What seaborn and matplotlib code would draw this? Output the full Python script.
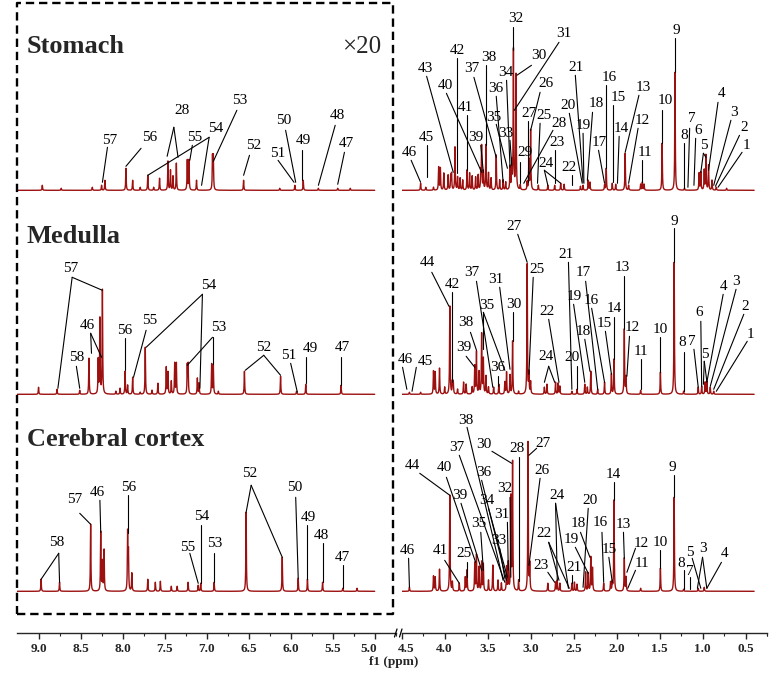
import numpy as np
import matplotlib
matplotlib.use("Agg")
import matplotlib.pyplot as plt
import seaborn as sns
from matplotlib.lines import Line2D
from matplotlib.transforms import ScaledTranslation

# peak tables: chemical shift (ppm) and drawn height above each trace's baseline
# (aromatic region 9.25-5.0 ppm is shown x20, heights below are as drawn)

stomach_arom_ppm = [8.955, 8.73, 8.36, 8.25, 8.21, 7.96, 7.88, 7.79, 7.70, 7.63, 7.56, 7.46, 7.43,
                    7.40, 7.36, 7.23, 7.21, 7.12, 6.93, 6.92, 6.56, 6.13, 5.95, 5.85, 5.67, 5.44, 5.29]
stomach_arom_int = [5, 2, 3, 5, 10, 22, 10, 3, 15, 3, 12, 29, 20,
                    14, 27, 30, 30, 10, 33, 33, 10, 2, 5, 10, 2, 2, 2]

stomach_aliph_ppm = [4.28, 4.22, 4.13, 4.07, 4.05, 4.01, 3.96, 3.93, 3.92, 3.88, 3.85, 3.82, 3.79,
                     3.74, 3.71, 3.68, 3.64, 3.61, 3.58, 3.57, 3.55, 3.52, 3.49, 3.46, 3.40, 3.36,
                     3.32, 3.29, 3.24, 3.22, 3.20, 3.17, 3.12, 3.04, 3.02, 3.00, 2.91, 2.80, 2.72,
                     2.65, 2.61, 2.42, 2.39, 2.33, 2.31, 2.14, 2.12, 2.05, 2.01, 1.90, 1.86, 1.72,
                     1.70, 1.68, 1.47, 1.32, 1.21, 1.04, 1.02, 0.98, 0.96, 0.93, 0.89, 0.84, 0.72]
stomach_aliph_int = [7, 3, 3, 23, 22, 17, 15, 14, 16, 43, 13, 12, 10,
                     20, 17, 14, 13, 15, 17, 43, 18, 45, 17, 12, 35, 10,
                     10, 8, 23, 27, 140, 115, 5, 8, 30, 60, 5, 5, 5,
                     7, 6, 4, 5, 10, 8, 5, 22, 7, 6, 37, 5, 6,
                     8, 6, 47, 118, 2, 17, 18, 20, 35, 25, 10, 3, 2]

medulla_arom_ppm = [9.00, 8.78, 8.51, 8.40, 8.29, 8.27, 8.24, 8.08, 8.03, 7.97, 7.94, 7.88, 7.79,
                    7.73, 7.65, 7.58, 7.48, 7.46, 7.42, 7.38, 7.36, 7.23, 7.22, 7.11, 7.09, 6.94,
                    6.92, 6.86, 6.55, 6.12, 5.93, 5.82, 5.40]
medulla_arom_int = [7, 5, 4, 36, 34, 75, 104, 3, 6, 23, 9, 17, 2,
                    47, 4, 11, 27, 22, 13, 31, 31, 28, 29, 16, 11, 30,
                    29, 3, 23, 18, 3, 10, 9]

medulla_aliph_ppm = [4.41, 4.28, 4.13, 4.11, 4.06, 4.00, 3.94, 3.91, 3.90, 3.85, 3.78, 3.75, 3.68,
                     3.65, 3.63, 3.60, 3.57, 3.55, 3.52, 3.49, 3.43, 3.37, 3.30, 3.28, 3.24, 3.21,
                     3.14, 3.04, 3.02, 3.00, 2.84, 2.81, 2.71, 2.68, 2.66, 2.52, 2.46, 2.37, 2.34,
                     2.30, 2.22, 2.14, 2.06, 2.03, 1.91, 1.89, 1.72, 1.49, 1.33, 1.22, 1.05, 1.01,
                     0.97, 0.95, 0.91, 0.87]
medulla_aliph_int = [2, 2, 23, 22, 26, 7, 88, 12, 12, 5, 12, 10, 7,
                     28, 42, 22, 60, 35, 18, 7, 7, 10, 12, 22, 19, 53,
                     3, 130, 20, 12, 7, 10, 12, 11, 8, 3, 5, 10, 7,
                     23, 5, 12, 20, 35, 65, 17, 4, 22, 132, 3, 7, 8,
                     12, 13, 7, 3]

cortex_arom_ppm = [8.97, 8.75, 8.38, 8.26, 8.24, 8.22, 7.94, 7.93, 7.89, 7.70, 7.61, 7.55, 7.42,
                   7.35, 7.22, 7.10, 7.07, 6.91, 6.53, 6.10, 5.91, 5.80, 5.62, 5.38, 5.21]
cortex_arom_int = [12, 9, 67, 59, 29, 41, 58, 38, 18, 12, 9, 10, 5,
                   5, 9, 6, 8, 9, 79, 34, 13, 12, 9, 3, 3]

cortex_aliph_ppm = [4.41, 4.13, 4.11, 4.06, 3.94, 3.91, 3.83, 3.76, 3.74, 3.65, 3.63, 3.60, 3.57,
                    3.55, 3.49, 3.44, 3.38, 3.34, 3.28, 3.26, 3.23, 3.21, 3.14, 3.03, 3.01, 2.80,
                    2.71, 2.69, 2.66, 2.52, 2.49, 2.46, 2.36, 2.33, 2.30, 2.28, 2.15, 2.07, 2.05,
                    2.03, 1.91, 1.89, 1.72, 1.49, 1.33, 1.22, 1.05, 0.98]
cortex_aliph_int = [4, 15, 14, 22, 96, 9, 8, 14, 21, 28, 36, 24, 29,
                    27, 11, 26, 11, 8, 24, 28, 93, 128, 11, 149, 26, 8,
                    9, 11, 8, 8, 9, 7, 19, 18, 34, 23, 8, 9, 8,
                    91, 33, 14, 3, 23, 94, 2, 3, 4]

tissues = ["Stomach", "Medulla", "Cerebral cortex"]

# peak labels: (text, text ppm, text height, line start ppm, line start height, [line ends])
stomach_arom_labels = [
    ("57", 8.15, 50, 8.18, 43, [(8.24, 8)]),
    ("56", 7.68, 53, 7.78, 42, [(7.96, 24)]),
    ("28", 7.29, 80, 7.39, 63, [(7.47, 34), (7.34, 33)]),
    ("55", 7.14, 53, 7.17, 45, [(7.20, 30)]),
    ("54", 6.89, 62, 6.97, 53, [(7.70, 15), (7.06, 5)]),
    ("53", 6.61, 90, 6.64, 80, [(6.92, 29)]),
    ("52", 6.44, 45, 6.49, 35, [(6.56, 15)]),
    ("51", 6.15, 37, 6.15, 30, [(5.96, 8)]),
    ("50", 6.08, 70, 6.06, 60, [(5.94, 8)]),
    ("49", 5.85, 50, 5.86, 40, [(5.86, 10)]),
    ("48", 5.44, 75, 5.47, 65, [(5.67, 5)]),
    ("47", 5.34, 47, 5.36, 38, [(5.44, 6)]),
]
stomach_aliph_labels = [
    ("46", 4.41, 38, 4.39, 30, [(4.28, 8)]),
    ("45", 4.21, 53, 4.21, 45, [(4.21, 13)]),
    ("43", 4.22, 122, 4.21, 114, [(3.90, 18)]),
    ("42", 3.85, 140, 3.86, 132, [(3.86, 17)]),
    ("40", 3.99, 105, 3.98, 97, [(3.57, 18)]),
    ("41", 3.76, 83, 3.74, 75, [(3.74, 20)]),
    ("37", 3.68, 122, 3.66, 113, [(3.40, 33)]),
    ("38", 3.49, 133, 3.52, 125, [(3.52, 45)]),
    ("39", 3.64, 53, 3.58, 45, [(3.55, 18)]),
    ("36", 3.40, 102, 3.40, 94, [(3.32, 8)]),
    ("35", 3.43, 73, 3.40, 66, [(3.27, 22)]),
    ("34", 3.29, 118, 3.28, 110, [(3.24, 23)]),
    ("33", 3.29, 57, 3.24, 50, [(3.22, 25)]),
    ("32", 3.17, 172, 3.20, 163, [(3.20, 140)]),
    ("30", 2.91, 135, 2.99, 125, [(3.16, 115)]),
    ("31", 2.61, 157, 2.67, 148, [(3.19, 80)]),
    ("29", 3.06, 38, 3.12, 28, [(3.12, 7)]),
    ("27", 3.02, 77, 3.03, 69, [(3.03, 8)]),
    ("26", 2.82, 107, 2.89, 98, [(3.00, 60)]),
    ("25", 2.84, 75, 2.89, 67, [(2.92, 7)]),
    ("28", 2.67, 67, 2.74, 60, [(3.08, 7)]),
    ("23", 2.69, 48, 2.72, 40, [(2.72, 7)]),
    ("24", 2.82, 27, 2.84, 20, [(2.80, 5), (2.65, 7)]),
    ("22", 2.55, 23, 2.52, 15, [(2.52, 5)]),
    ("21", 2.47, 123, 2.48, 115, [(2.39, 8)]),
    ("20", 2.56, 85, 2.55, 77, [(2.40, 7)]),
    ("19", 2.39, 65, 2.39, 57, [(2.38, 7)]),
    ("18", 2.24, 87, 2.28, 78, [(2.34, 10)]),
    ("17", 2.20, 48, 2.21, 40, [(2.14, 7)]),
    ("16", 2.09, 113, 2.12, 105, [(2.12, 22)]),
    ("15", 1.98, 93, 2.04, 85, [(2.04, 8)]),
    ("14", 1.95, 62, 1.97, 54, [(1.99, 7)]),
    ("13", 1.69, 103, 1.74, 95, [(1.90, 38)]),
    ("12", 1.70, 70, 1.75, 62, [(1.86, 7)]),
    ("11", 1.67, 38, 1.70, 30, [(1.70, 8)]),
    ("10", 1.43, 90, 1.47, 80, [(1.47, 47)]),
    ("9", 1.30, 160, 1.32, 152, [(1.32, 118)]),
    ("8", 1.21, 55, 1.21, 47, [(1.21, 2)]),
    ("7", 1.13, 72, 1.15, 62, [(1.17, 3)]),
    ("6", 1.05, 60, 1.08, 52, [(1.10, 5)]),
    ("5", 0.98, 45, 0.99, 37, [(1.02, 18), (0.96, 33)]),
    ("4", 0.78, 97, 0.82, 88, [(0.93, 20)]),
    ("3", 0.63, 78, 0.67, 70, [(0.87, 5)]),
    ("2", 0.52, 63, 0.57, 55, [(0.85, 4)]),
    ("1", 0.49, 45, 0.54, 38, [(0.82, 3)]),
]
medulla_arom_labels = [
    ("57", 8.62, 126, 8.60, 117, [(8.77, 6), (8.24, 104)]),
    ("58", 8.55, 37, 8.55, 28, [(8.51, 6)]),
    ("46", 8.42, 69, 8.38, 61, [(8.37, 41), (8.25, 37)]),
    ("56", 7.97, 64, 7.97, 56, [(7.97, 24)]),
    ("55", 7.68, 74, 7.72, 64, [(7.87, 17)]),
    ("54", 6.98, 109, 7.05, 100, [(7.72, 47), (7.08, 6)]),
    ("53", 6.86, 67, 6.93, 57, [(7.23, 29), (6.93, 30)]),
    ("52", 6.32, 47, 6.32, 39, [(6.54, 24), (6.12, 19)]),
    ("51", 6.02, 39, 6.00, 31, [(5.92, 2)]),
    ("49", 5.77, 46, 5.82, 37, [(5.82, 11)]),
    ("47", 5.38, 47, 5.40, 37, [(5.40, 9)]),
]
medulla_aliph_labels = [
    ("46", 4.46, 35, 4.49, 27, [(4.44, 5)]),
    ("45", 4.22, 33, 4.33, 27, [(4.38, 3)]),
    ("44", 4.20, 132, 4.15, 122, [(3.95, 88)]),
    ("42", 3.91, 110, 3.91, 102, [(3.91, 12)]),
    ("38", 3.75, 72, 3.70, 62, [(3.63, 44)]),
    ("39", 3.78, 47, 3.75, 38, [(3.65, 27)]),
    ("37", 3.68, 122, 3.63, 113, [(3.44, 7)]),
    ("35", 3.51, 89, 3.55, 82, [(3.55, 45), (3.30, 24)]),
    ("36", 3.38, 27, 3.38, 18, [(3.38, 8)]),
    ("31", 3.40, 115, 3.36, 107, [(3.24, 25)]),
    ("30", 3.20, 90, 3.21, 82, [(3.21, 53)]),
    ("27", 3.19, 168, 3.15, 160, [(3.04, 132)]),
    ("25", 2.93, 125, 2.97, 117, [(3.02, 20)]),
    ("24", 2.82, 38, 2.79, 28, [(2.84, 12), (2.72, 12)]),
    ("22", 2.81, 83, 2.79, 75, [(2.67, 12)]),
    ("21", 2.59, 140, 2.56, 132, [(2.52, 5)]),
    ("20", 2.52, 37, 2.46, 28, [(2.46, 5)]),
    ("19", 2.49, 98, 2.50, 90, [(2.37, 12)]),
    ("18", 2.39, 63, 2.37, 55, [(2.31, 23)]),
    ("17", 2.39, 122, 2.36, 113, [(2.22, 5)]),
    ("16", 2.29, 94, 2.29, 86, [(2.14, 12)]),
    ("15", 2.14, 71, 2.13, 63, [(2.06, 20)]),
    ("14", 2.03, 86, 2.03, 77, [(2.03, 35)]),
    ("13", 1.93, 127, 1.91, 118, [(1.91, 65)]),
    ("12", 1.82, 67, 1.85, 58, [(1.88, 18)]),
    ("11", 1.72, 43, 1.72, 35, [(1.72, 5)]),
    ("10", 1.49, 65, 1.49, 57, [(1.49, 22)]),
    ("9", 1.33, 173, 1.33, 166, [(1.33, 132)]),
    ("8", 1.24, 52, 1.22, 42, [(1.22, 3)]),
    ("7", 1.13, 53, 1.10, 45, [(1.05, 7)]),
    ("6", 1.04, 82, 1.02, 73, [(1.01, 8)]),
    ("5", 0.97, 40, 0.98, 33, [(0.99, 10), (0.95, 13)]),
    ("4", 0.76, 108, 0.76, 100, [(0.95, 12)]),
    ("3", 0.61, 113, 0.61, 105, [(0.91, 8)]),
    ("2", 0.50, 88, 0.52, 80, [(0.87, 5)]),
    ("1", 0.44, 60, 0.48, 53, [(0.84, 3)]),
]
cortex_arom_labels = [
    ("58", 8.78, 49, 8.76, 38, [(8.97, 12), (8.75, 9)]),
    ("57", 8.57, 92, 8.51, 78, [(8.38, 67)]),
    ("46", 8.30, 99, 8.27, 91, [(8.26, 59)]),
    ("56", 7.93, 104, 7.94, 96, [(7.94, 58)]),
    ("55", 7.22, 44, 7.20, 38, [(7.10, 8)]),
    ("54", 7.06, 75, 7.07, 66, [(7.07, 8)]),
    ("53", 6.90, 48, 6.91, 38, [(6.91, 9)]),
    ("52", 6.49, 118, 6.47, 106, [(6.53, 79), (6.10, 34)]),
    ("50", 5.95, 104, 5.94, 94, [(5.91, 13)]),
    ("49", 5.79, 74, 5.80, 66, [(5.80, 12)]),
    ("48", 5.63, 56, 5.62, 48, [(5.62, 9)]),
    ("47", 5.38, 34, 5.38, 26, [(5.38, 3)]),
]
cortex_aliph_labels = [
    ("46", 4.43, 41, 4.42, 33, [(4.41, 4)]),
    ("44", 4.37, 126, 4.29, 118, [(3.94, 96)]),
    ("41", 4.05, 41, 4.00, 31, [(3.83, 8)]),
    ("40", 4.00, 124, 3.98, 114, [(3.64, 29)]),
    ("39", 3.82, 96, 3.81, 88, [(3.57, 21)]),
    ("25", 3.78, 38, 3.74, 29, [(3.74, 14)]),
    ("38", 3.75, 171, 3.74, 164, [(3.32, 11)]),
    ("37", 3.86, 144, 3.83, 136, [(3.30, 9)]),
    ("35", 3.60, 68, 3.58, 59, [(3.55, 21)]),
    ("36", 3.54, 119, 3.57, 111, [(3.28, 11)]),
    ("34", 3.51, 91, 3.49, 83, [(3.27, 14)]),
    ("33", 3.37, 51, 3.36, 43, [(3.30, 13)]),
    ("31", 3.34, 77, 3.27, 69, [(3.26, 21)]),
    ("32", 3.30, 103, 3.24, 94, [(3.23, 14)]),
    ("30", 3.55, 147, 3.45, 140, [(3.22, 128)]),
    ("28", 3.16, 143, 3.14, 134, [(3.14, 10)]),
    ("27", 2.86, 148, 2.93, 143, [(3.02, 136)]),
    ("26", 2.87, 121, 2.89, 113, [(3.02, 26)]),
    ("24", 2.69, 96, 2.71, 88, [(2.69, 11), (2.56, 3)]),
    ("22", 2.84, 58, 2.79, 49, [(2.67, 11), (2.55, 3)]),
    ("23", 2.88, 26, 2.80, 19, [(2.72, 9)]),
    ("21", 2.49, 24, 2.52, 16, [(2.52, 8)]),
    ("19", 2.53, 52, 2.48, 44, [(2.33, 18)]),
    ("18", 2.44, 68, 2.42, 59, [(2.31, 34)]),
    ("20", 2.31, 91, 2.33, 83, [(2.39, 4)]),
    ("16", 2.19, 69, 2.17, 59, [(2.15, 9)]),
    ("15", 2.08, 42, 2.09, 34, [(2.05, 9)]),
    ("14", 2.04, 117, 2.03, 109, [(2.03, 91)]),
    ("13", 1.92, 67, 1.92, 59, [(1.91, 33)]),
    ("12", 1.71, 48, 1.78, 43, [(1.88, 19)]),
    ("11", 1.71, 28, 1.78, 21, [(1.87, 3)]),
    ("10", 1.49, 49, 1.49, 41, [(1.49, 23)]),
    ("9", 1.35, 124, 1.33, 116, [(1.33, 94)]),
    ("8", 1.25, 28, 1.22, 21, [(1.22, 2)]),
    ("7", 1.15, 20, 1.15, 14, [(1.15, 2)]),
    ("5", 1.15, 39, 1.12, 33, [(1.02, 3)]),
    ("3", 1.00, 43, 1.00, 34, [(1.06, 3), (0.95, 3)]),
    ("4", 0.74, 38, 0.78, 29, [(0.95, 3)]),
]

# layout
W, H = 784, 673
RED = "#9c1010"
HW = 0.0035           # lorentzian half width (ppm)
AX_BOTTOM_PX = 633.3  # y of the ppm axis line, in pixels from the top
baselines = [443, 239, 42]   # vertical offsets of the three traces

sns.set_style("ticks")
plt.rcParams["font.family"] = ["Liberation Serif", "DejaVu Serif"]
plt.rcParams["lines.scale_dashes"] = False

fig = plt.figure(figsize=(W / 100, H / 100), dpi=100)
ax_l = fig.add_axes([16.7 / W, 1 - AX_BOTTOM_PX / H, 379.0 / W, AX_BOTTOM_PX / H])
ax_r = fig.add_axes([401.7 / W, 1 - AX_BOTTOM_PX / H, 365.3 / W, AX_BOTTOM_PX / H])


def trace(ppm, inten, lo, hi):
    grid = np.arange(lo, hi, 0.001)
    p = np.asarray(ppm)[:, None]
    a = np.asarray(inten, dtype=float)[:, None]
    y = (a / (1 + ((grid[None, :] - p) / HW) ** 2)).sum(axis=0)
    return grid, y


def draw_labels(ax, labels, base):
    for text, tx, th, sx, sh, ends in labels:
        ax.text(tx, base + th, text, ha="center", va="center", fontsize=11, color="black")
        for ex, eh in ends:
            ax.plot([sx, ex], [base + sh, base + eh], color="black", lw=0.8)


panels = [
    (ax_l, 5.0, 9.26,
     [stomach_arom_ppm, medulla_arom_ppm, cortex_arom_ppm],
     [stomach_arom_int, medulla_arom_int, cortex_arom_int],
     [stomach_arom_labels, medulla_arom_labels, cortex_arom_labels]),
    (ax_r, 0.40, 4.5,
     [stomach_aliph_ppm, medulla_aliph_ppm, cortex_aliph_ppm],
     [stomach_aliph_int, medulla_aliph_int, cortex_aliph_int],
     [stomach_aliph_labels, medulla_aliph_labels, cortex_aliph_labels]),
]

for ax, lo, hi, ppms, ints, labs in panels:
    for ppm, inten, lab, base in zip(ppms, ints, labs, baselines):
        x, y = trace(ppm, inten, lo, hi)
        sns.lineplot(x=x, y=base + y, ax=ax, color=RED, lw=1.0, estimator=None, sort=False)
        draw_labels(ax, lab, base)
    ax.set_xlim(hi, lo)
    ax.set_ylim(0, AX_BOTTOM_PX)
    ax.set_facecolor("none")
    for s in ["top", "left", "right"]:
        ax.spines[s].set_visible(False)
    ax.spines["bottom"].set_linewidth(1.0)
    ax.set_yticks([])
    ax.set_xlabel("")
    ax.set_ylabel("")

ticks_l = [9.0, 8.5, 8.0, 7.5, 7.0, 6.5, 6.0, 5.5, 5.0]
ticks_r = [4.5, 4.0, 3.5, 3.0, 2.5, 2.0, 1.5, 1.0, 0.5]
for ax, ticks in [(ax_l, ticks_l), (ax_r, ticks_r)]:
    ax.set_xticks(ticks)
    ax.set_xticklabels([f"{t:.1f}" for t in ticks], fontweight="bold", fontsize=9.5)
    ax.set_xticks([t - 0.25 for t in ticks] + [ticks[-1] + (0.25 if ax is ax_l else -0.25)], minor=True)
    ax.tick_params(axis="x", which="major", direction="out", length=4, width=1, pad=3)
    ax.tick_params(axis="x", which="minor", direction="out", length=2.5, width=0.8)

# squeeze the crowded 5.0 / 4.5 labels apart
ax_l.get_xticklabels()[-1].set_transform(
    ax_l.get_xticklabels()[-1].get_transform() + ScaledTranslation(-4 / 72, 0, fig.dpi_scale_trans))
ax_r.get_xticklabels()[0].set_transform(
    ax_r.get_xticklabels()[0].get_transform() + ScaledTranslation(3 / 72, 0, fig.dpi_scale_trans))

# axis break marks
for x0 in (394.5, 399.5):
    fig.add_artist(Line2D([x0 / W, (x0 + 2.5) / W], [1 - 637 / H, 1 - 629 / H], color="black", lw=0.9))

fig.text(394 / W, 1 - 662 / H, "f1 (ppm)", ha="center", va="center", fontsize=9.5, fontweight="bold")

# dashed box around the x20 region
bx0, bx1, by0, by1 = 16.7 / W, 393.3 / W, 1 - 614 / H, 1 - 3.3 / H
fig.add_artist(Line2D([bx0, bx1, bx1, bx0, bx0], [by0, by0, by1, by1, by0],
                      color="black", lw=1.7, dashes=(6, 3.5)))

name_y = [46.7, 236.7, 440]
for name, ny in zip(tissues, name_y):
    fig.text(27 / W, 1 - ny / H, name, ha="left", va="center", fontsize=19, fontweight="bold")
fig.text(381 / W, 1 - 47 / H, "×20", ha="right", va="center", fontsize=18)

fig.savefig("out.png", dpi=100)
